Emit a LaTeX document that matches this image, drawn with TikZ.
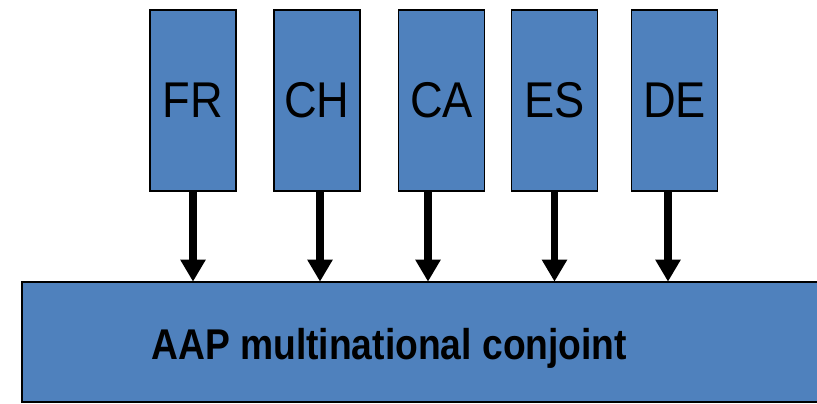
\documentclass[tikz,border=0pt]{standalone}
\usepackage{fontspec}
\setmainfont{Liberation Sans}
\usetikzlibrary{arrows.meta}
\definecolor{boxblue}{RGB}{79,129,189}

\begin{document}
\begin{tikzpicture}
  [x=0.02cm,y=-0.02cm,
   land/.style={draw,fill=boxblue,line width=1pt,minimum width=1.72cm,
     minimum height=3.62cm,inner sep=0pt,font=\fontsize{28.6}{30}\selectfont},
   pool/.style={fill=boxblue,minimum width=15.9cm,
     minimum height=2.4cm,inner sep=0pt},
   flow/.style={-{Triangle[width=0.48cm,length=0.44cm]},line width=4.5pt}]
  \useasboundingbox (0,0) rectangle (817,403);

  \node[land] (fr) at (193,  100.5) {\scalebox{0.9}[1]{FR}};
  \node[land] (ch) at (317,  100.5) {\scalebox{0.9}[1]{CH}};
  \node[land] (ca) at (441.5,100.5) {\scalebox{0.9}[1]{CA}};
  \node[land] (es) at (554.5,100.5) {\scalebox{0.9}[1]{ES}};
  \node[land] (de) at (674.5,100.5) {\scalebox{0.9}[1]{DE}};

  % box runs off the right edge, so no right side
  \node[pool] (conj) at (419.5,342) {};
  \draw[line width=1pt] (conj.north east) -- (conj.north west)
    -- (conj.south west) -- (conj.south east);
  \node[inner sep=0pt,anchor=base west,font=\fontsize{24.5}{26}\selectfont\bfseries]
    (conjtext) at (151,359) {\scalebox{0.865}[1]{AAP multinational conjoint}};

  \draw[flow] (fr.south) -- (fr.south |- conj.north);
  \draw[flow] ([xshift=0.06cm]ch.south) -- ([xshift=0.06cm]ch.south |- conj.north);
  \draw[flow] ([xshift=-0.27cm]ca.south) -- ([xshift=-0.27cm]ca.south |- conj.north);
  \draw[flow] (es.south) -- (es.south |- conj.north);
  \draw[flow] ([xshift=-0.13cm]de.south) -- ([xshift=-0.13cm]de.south |- conj.north);

\end{tikzpicture}
\end{document}
